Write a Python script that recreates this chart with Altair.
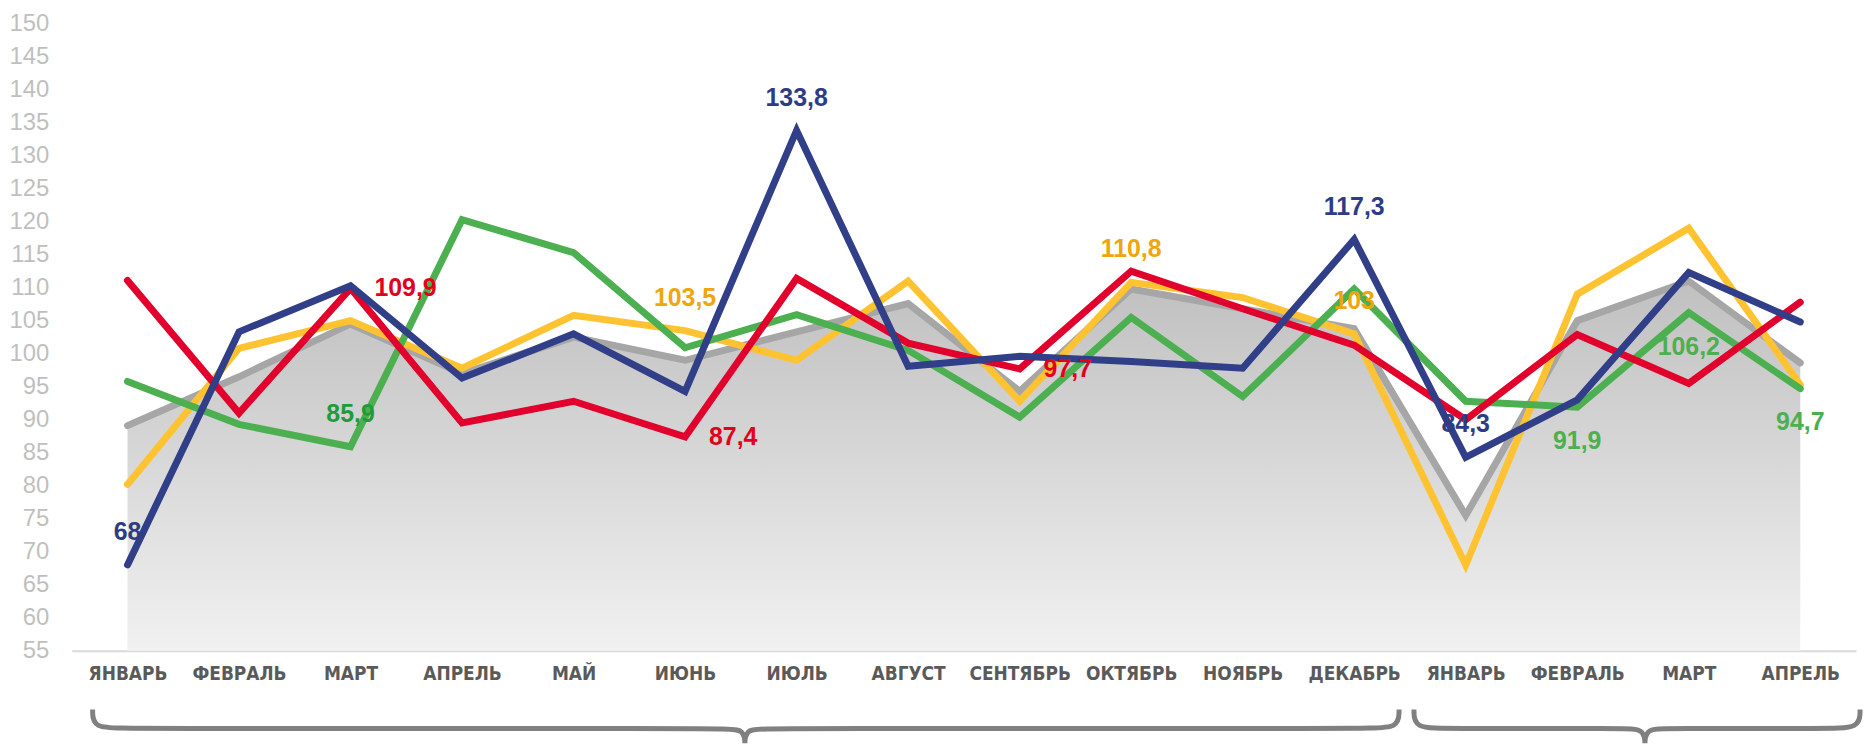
import json
import altair as alt
import pandas as pd

# ---------------- data ----------------
months = ["ЯНВАРЬ", "ФЕВРАЛЬ", "МАРТ", "АПРЕЛЬ", "МАЙ", "ИЮНЬ", "ИЮЛЬ", "АВГУСТ",
          "СЕНТЯБРЬ", "ОКТЯБРЬ", "НОЯБРЬ", "ДЕКАБРЬ", "ЯНВАРЬ", "ФЕВРАЛЬ", "МАРТ", "АПРЕЛЬ"]

gray = [89.1, 96.5, 104.5, 97.0, 102.5, 99.0, 103.3, 107.6, 94.3, 109.8, 106.8, 103.8, 75.5, 105.0, 111.0, 98.6]
yellow = [80.2, 100.8, 105.0, 97.8, 105.8, 103.5, 99.0, 111.0, 92.8, 110.8, 108.5, 103.0, 68.0, 109.0, 119.0, 95.3]
green = [95.8, 89.3, 85.9, 120.3, 115.3, 100.9, 105.9, 100.5, 90.4, 105.5, 93.5, 109.8, 92.8, 91.9, 106.2, 94.7]
red = [111.1, 91.0, 109.9, 89.5, 92.8, 87.4, 111.4, 101.6, 97.7, 112.5, 106.8, 101.3, 90.0, 102.9, 95.5, 107.8]
blue = [68.0, 103.3, 110.3, 96.3, 103.0, 94.3, 133.8, 98.1, 99.6, 98.8, 97.8, 117.3, 84.3, 93.0, 112.3, 104.8]

y_ticks = list(range(55, 151, 5))

# data labels: (series, month index)
labels_above = [("blue", 0), ("green", 2), ("blue", 6), ("yellow", 5), ("yellow", 9),
                ("blue", 11), ("yellow", 11), ("blue", 12)]
labels_below = [("green", 13), ("green", 14), ("green", 15)]
labels_right = [("red", 2), ("red", 5), ("red", 8)]

# braces grouping the two years (x in month-index units, y in axis units)
brace1_x = [-0.3125, -0.3125, 0.0, 5.357, 5.536, 5.536, 5.536, 5.714, 11.09, 11.402, 11.402]
brace1_y = [46.1, 43.24, 43.24, 43.24, 43.24, 39.9, 43.24, 43.24, 43.24, 43.24, 46.1]
brace2_x = [11.536, 11.536, 11.85, 13.429, 13.607, 13.607, 13.607, 13.786, 15.22, 15.536, 15.536]
brace2_y = [46.1, 43.24, 43.24, 43.24, 43.24, 39.9, 43.24, 43.24, 43.24, 43.24, 46.1]

# ---------------- styling ----------------
series = {"yellow": yellow, "green": green, "red": red, "blue": blue}
line_colors = {"yellow": "#ffc331", "green": "#4caf50", "red": "#e2002c", "blue": "#303f87"}
label_colors = {"yellow": "#eea60c", "green": "#4caf50", "red": "#e2001a", "blue": "#2e3c85"}
label_color_override = {("green", 2): "#1e9c3c"}

idx = list(range(len(months)))

x_scale = alt.Scale(domain=[-0.5, len(months) - 0.5], nice=False, zero=False)
y_scale = alt.Scale(domain=[55, 150], nice=False, zero=False)

label_expr = json.dumps(months, ensure_ascii=False) + "[datum.value]"

x_axis = alt.Axis(values=idx, labelExpr=label_expr, title=None, ticks=False, grid=False,
                  labelFont="DejaVu Sans Condensed, Liberation Sans Narrow, Arial Narrow, sans-serif",
                  labelFontWeight="bold", labelFontSize=19, labelColor="#5a5a5a",
                  labelPadding=14, labelOverlap=False, labelFlush=False,
                  domainColor="#d9d9d9", domainWidth=2)
y_axis = alt.Axis(values=y_ticks, title=None, ticks=False, grid=False, domain=False,
                  labelFont="Liberation Sans, Arial, sans-serif", labelFontSize=24,
                  labelColor="#bfbfbf", labelPadding=23, labelOverlap=False, labelFlush=False,
                  labelBound=False)


def X(field="i"):
    return alt.X(f"{field}:Q", scale=x_scale, axis=x_axis)


def Y(field="v"):
    return alt.Y(f"{field}:Q", scale=y_scale, axis=y_axis)


df_gray = pd.DataFrame({"i": idx, "v": gray})

area = alt.Chart(df_gray).mark_area(
    color=alt.Gradient(gradient="linear",
                       stops=[alt.GradientStop(color="#c0c0c0", offset=0),
                              alt.GradientStop(color="#f1f1f1", offset=1)],
                       x1=1, x2=1, y1=0, y2=1)
).encode(x=X(), y=Y(), y2=alt.datum(55))

gray_line = alt.Chart(df_gray).mark_line(color="#a6a6a6", strokeWidth=7, strokeCap="round").encode(
    x=X(), y=Y())

layers = [area, gray_line]
for name, vals in series.items():
    d = pd.DataFrame({"i": idx, "v": vals})
    layers.append(alt.Chart(d).mark_line(color=line_colors[name], strokeWidth=7, strokeCap="round").encode(
        x=X(), y=Y()))


def fmt(v):
    return f"{v:g}".replace(".", ",")


def label_df(specs):
    rows = []
    for s, k in specs:
        v = series[s][k]
        rows.append({"i": k, "v": v, "t": fmt(v),
                     "c": label_color_override.get((s, k), label_colors[s])})
    return pd.DataFrame(rows)


text_style = dict(font="Liberation Sans, Arial, sans-serif", fontWeight="bold", fontSize=25, baseline="middle")
enc = dict(x=X(), y=Y(), text="t:N", color=alt.Color("c:N", scale=None))

layers.append(alt.Chart(label_df(labels_above)).mark_text(align="center", dy=-33, **text_style).encode(**enc))
layers.append(alt.Chart(label_df(labels_below)).mark_text(align="center", dy=34, **text_style).encode(**enc))
layers.append(alt.Chart(label_df(labels_right)).mark_text(align="left", dx=24, **text_style).encode(**enc))

brace_rows = []
for b, (bx, by) in enumerate([(brace1_x, brace1_y), (brace2_x, brace2_y)]):
    for k, (xx, yy) in enumerate(zip(bx, by)):
        brace_rows.append({"i": xx, "v": yy, "k": k, "b": b})
df_brace = pd.DataFrame(brace_rows)

braces = alt.Chart(df_brace).mark_line(interpolate="basis", color="#808080", strokeWidth=5).encode(
    x=X(), y=Y(), order="k:Q", detail="b:N")
layers.append(braces)

chart = alt.layer(*layers).properties(
    width=1792, height=630,
    autosize=alt.AutoSizeParams(type="none"),
    padding={"left": 64, "top": 14, "right": 7, "bottom": 95},
    background="white",
).configure_view(stroke=None)

chart.save("out.html", embed_options={"renderer": "svg", "actions": False})
